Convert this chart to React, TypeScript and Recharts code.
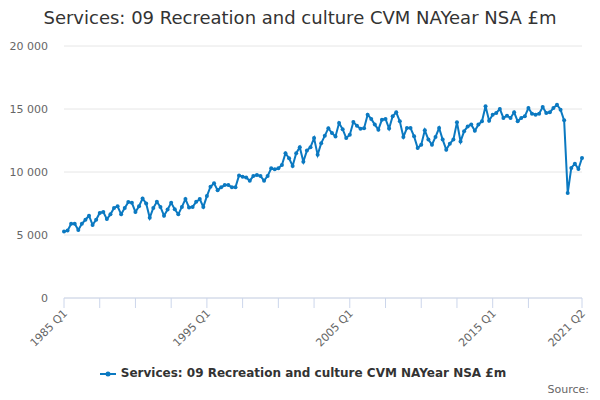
import { LineChart, Line, XAxis, YAxis, CartesianGrid } from 'recharts';

// quarterly values, £m
const values1985to1994 = [
  5270, 5350, 5890, 5890, 5400, 5890, 6210, 6530, 5800, 6210,
  6750, 6830, 6260, 6640, 7150, 7280, 6640, 7150, 7610, 7550,
  6830, 7280, 7900, 7500, 6370, 7150, 7630, 7230, 6530, 7020,
  7550, 7040, 6640, 7230, 7850, 7180, 7230, 7630, 7850, 7230,
];
const values1995to2006 = [
  8090, 8830, 9100, 8560, 8780, 8960, 8960, 8780, 8780, 9730,
  9630, 9570, 9310, 9680, 9760, 9680, 9310, 9680, 10290, 10210,
  10290, 10560, 11490, 11090, 10480, 11490, 11970, 10820, 11700, 11970,
  12690, 11360, 12290, 12870, 13480, 13090, 12820, 13880, 13400, 12690,
  12950, 13960, 13670, 13430, 13480, 14550,
];
const values2006to2021 = [
  14210, 13760, 13360, 14150, 14210, 13450, 14420, 14740, 14020, 12780,
  13490, 13490, 12830, 11900, 12170, 13310, 12570, 12170, 12780, 13490,
  12570, 11770, 12250, 12570, 13940, 12430, 13230, 13620, 13760, 13280,
  13760, 14020, 15210, 14070, 14550, 14680, 15000, 14290, 14470, 14290,
  14740, 14020, 14290, 14420, 15080, 14630, 14550, 14630, 15160, 14680,
  14740, 15080, 15340, 14950, 14100, 8330, 10320, 10660, 10240, 11110,
];

const values = [...values1985to1994, ...values1995to2006, ...values2006to2021];

const quarters: string[] = [];
for (let y = 1985; y <= 2021; y++) {
  for (let q = 1; q <= 4; q++) {
    if (y === 2021 && q > 2) break;
    quarters.push(`${y} Q${q}`);
  }
}

const labelled = ['1985 Q1', '1995 Q1', '2005 Q1', '2015 Q1', '2021 Q2'];
const xTicks = [...quarters.filter((_, i) => i % 10 === 0 && i <= 130), '2021 Q2'];
const yTicks = [0, 5000, 10000, 15000, 20000];

const data = quarters.map((q, i) => ({ q, v: values[i] }));

const TITLE = 'Services: 09 Recreation and culture CVM NAYear NSA £m';
const COLOR = '#0b79c1';
const FONT = '"DejaVu Sans", sans-serif';

const fmt = (n: number) => String(n).replace(/\B(?=(\d{3})+(?!\d))/g, ' ');

const XTick = (props: any) => {
  const { x, y, payload } = props;
  if (!labelled.includes(payload.value)) return null;
  return (
    <text
      transform={`translate(${x + 4},${y + 4}) rotate(-45)`}
      textAnchor="end"
      fontSize={11}
      fill="#666"
      fontFamily={FONT}
    >
      {payload.value}
    </text>
  );
};

export default function App() {
  return (
    <div style={{ position: 'absolute', left: 0, top: 0, width: 600, height: 400, background: '#fff', fontFamily: FONT }}>
      <div style={{ position: 'absolute', top: 7, width: 600, textAlign: 'center', fontSize: 18, color: '#333' }}>
        {TITLE}
      </div>
      <LineChart width={600} height={400} data={data} margin={{ top: 46, right: 18, bottom: 0, left: 0 }}>
        <CartesianGrid vertical={false} stroke="#e6e6e6" />
        <XAxis
          dataKey="q"
          ticks={xTicks}
          interval={0}
          height={102}
          tick={<XTick />}
          tickSize={10}
          stroke="#ccd6eb"
        />
        <YAxis
          width={64}
          domain={[0, 20000]}
          ticks={yTicks}
          axisLine={false}
          tickLine={false}
          tickMargin={10}
          tickFormatter={fmt}
          tick={{ fill: '#666', fontSize: 11, fontFamily: FONT }}
        />
        <Line
          type="linear"
          dataKey="v"
          stroke={COLOR}
          strokeWidth={2}
          dot={{ r: 2, fill: COLOR, stroke: COLOR, strokeWidth: 0 }}
          isAnimationActive={false}
        />
      </LineChart>
      <div style={{ position: 'absolute', top: 366, left: 88, width: 430, textAlign: 'center', fontSize: 12, fontWeight: 'bold', color: '#333' }}>
        <svg width={16} height={10} style={{ marginRight: 5, verticalAlign: 'middle' }}>
          <line x1={0} y1={5} x2={16} y2={5} stroke={COLOR} strokeWidth={2} />
          <circle cx={8} cy={5} r={2.5} fill={COLOR} />
        </svg>
        {TITLE}
      </div>
      <div style={{ position: 'absolute', top: 383, right: 11, fontSize: 11, color: '#666' }}>Source:</div>
    </div>
  );
}
